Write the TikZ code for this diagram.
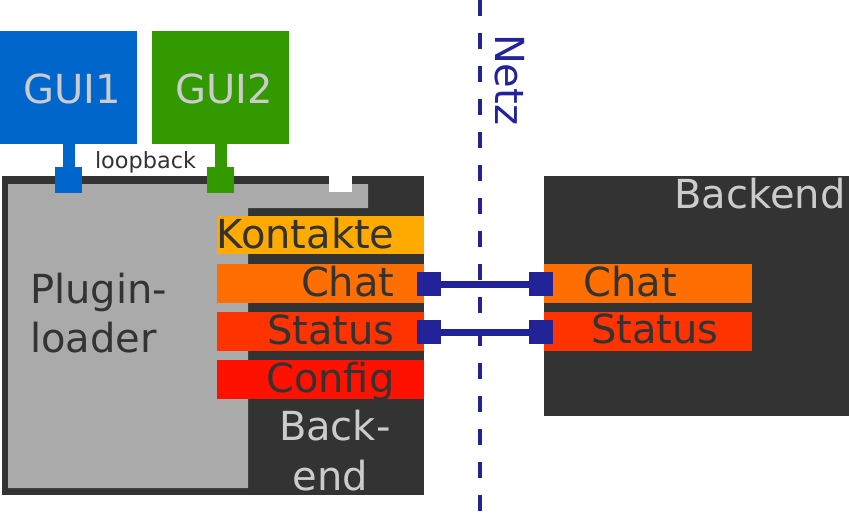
\documentclass[tikz,border=0pt]{standalone}
\usepackage{fontspec}
\setmainfont{DejaVu Sans}
\definecolor{guiblue}{HTML}{0066CC}
\definecolor{guigreen}{HTML}{339900}
\definecolor{darkbox}{HTML}{333333}
\definecolor{lgray}{HTML}{AAAAAA}
\definecolor{ltext}{HTML}{CCCCCC}
\definecolor{cKont}{HTML}{FFAA00}
\definecolor{cChat}{HTML}{FF6E00}
\definecolor{cStat}{HTML}{FF3300}
\definecolor{cConf}{HTML}{FF1100}
\definecolor{netblue}{HTML}{222299}
\begin{document}
\begin{tikzpicture}[x=1pt,y=-1pt,
  box/.style={draw=none, inner sep=0pt, outer sep=0pt, anchor=north west, rectangle},
  sq/.style={draw=none, inner sep=0pt, outer sep=0pt, rectangle},
  bigtxt/.style={inner sep=0pt, outer sep=0pt, font=\fontsize{40}{48}\selectfont},
  smalltxt/.style={inner sep=0pt, outer sep=0pt, font=\fontsize{22.4}{26}\selectfont, text=darkbox},
  link/.style={draw=netblue, line width=7pt},
  stem/.style={line width=12pt}]
\useasboundingbox (0,0) rectangle (849,512);

% GUI boxes
\node[box, fill=guiblue, minimum width=137pt, minimum height=113pt] (gui1) at (0,31) {};
\node[box, fill=guigreen, minimum width=137pt, minimum height=113pt] (gui2) at (152,31) {};
\node[bigtxt, text=ltext, anchor=base west] (gui1t) at (23.5,103) {GUI1};
\node[bigtxt, text=ltext, anchor=base west] (gui2t) at (175.5,103) {GUI2};

% left backend box
\node[box, fill=darkbox, minimum width=422pt, minimum height=319pt] (lbox) at (2,176) {};
\fill[lgray] (8,184) -- (368,184) -- (368,208) -- (248,208) -- (248,488) -- (8,488) -- cycle;
\node[box, fill=white, minimum width=23pt, minimum height=16pt] (notch) at (329,176) {};

% GUI connectors
\node[sq, fill=guiblue, minimum width=27pt, minimum height=26pt] (sq1) at (68.5,180) {};
\node[sq, fill=guigreen, minimum width=27pt, minimum height=26pt] (sq2) at (220.5,180) {};
\draw[stem, guiblue] (sq1.center) -- (sq1.center |- gui1.south);
\draw[stem, guigreen] (sq2.center) -- (sq2.center |- gui2.south);
\node[smalltxt, anchor=base west] (loop) at (95,168) {loopback};

% bars left
\node[box, fill=cKont, minimum width=207pt, minimum height=38pt] (kont) at (217,216) {};
\node[box, fill=cChat, minimum width=207pt, minimum height=39pt] (chatl) at (217,264) {};
\node[box, fill=cStat, minimum width=207pt, minimum height=39pt] (statl) at (217,312) {};
\node[box, fill=cConf, minimum width=207pt, minimum height=39pt] (conf) at (217,360) {};
\node[bigtxt, text=darkbox, anchor=base east] (kontt) at (394.5,248) {Kontakte};
\node[bigtxt, text=darkbox, anchor=base east] (chatlt) at (394.5,296) {Chat};
\node[bigtxt, text=darkbox, anchor=base east] (statlt) at (394.5,344) {Status};
\node[bigtxt, text=darkbox, anchor=base east] (conft) at (394.5,392) {Config};

\node[bigtxt, text=darkbox, anchor=base west] (plug1) at (30.2,303.5) {Plugin-};
\node[bigtxt, text=darkbox, anchor=base west] (plug2) at (30.2,352) {loader};
\node[bigtxt, text=ltext, anchor=base west] (back1) at (279,440) {Back-};
\node[bigtxt, text=ltext, anchor=base west] (back2) at (292.5,490) {end};

% right backend
\node[box, fill=darkbox, minimum width=305pt, minimum height=240pt] (rbox) at (544,176) {};
\node[bigtxt, text=ltext, anchor=base east] (rboxt) at (845.5,208) {Backend};
\node[box, fill=cChat, minimum width=208pt, minimum height=39pt] (chatr) at (544,264) {};
\node[box, fill=cStat, minimum width=208pt, minimum height=39pt] (statr) at (544,312) {};
\node[bigtxt, text=darkbox, anchor=base west] (chatrt) at (583.5,296) {Chat};
\node[bigtxt, text=darkbox, anchor=base west] (statrt) at (591.3,343.5) {Status};

% network line
\coordinate (ntop) at (480,0);
\coordinate (nbot) at (480,512);
\draw[netblue, line width=3.3pt, dash pattern=on 16pt off 17pt] (ntop) -- (nbot);
\node[bigtxt, text=netblue, rotate=-90, anchor=base west] (netz) at (495,34) {Netz};

% links
\node[sq, fill=netblue, minimum size=24pt] (cl) at (429,284) {};
\node[sq, fill=netblue, minimum size=24pt] (cr) at (541,284) {};
\node[sq, fill=netblue, minimum size=24pt] (sl) at (429,332) {};
\node[sq, fill=netblue, minimum size=24pt] (sr) at (541,332) {};
\draw[link] (cl) -- (cr);
\draw[link] (sl) -- (sr);
\end{tikzpicture}
\end{document}
